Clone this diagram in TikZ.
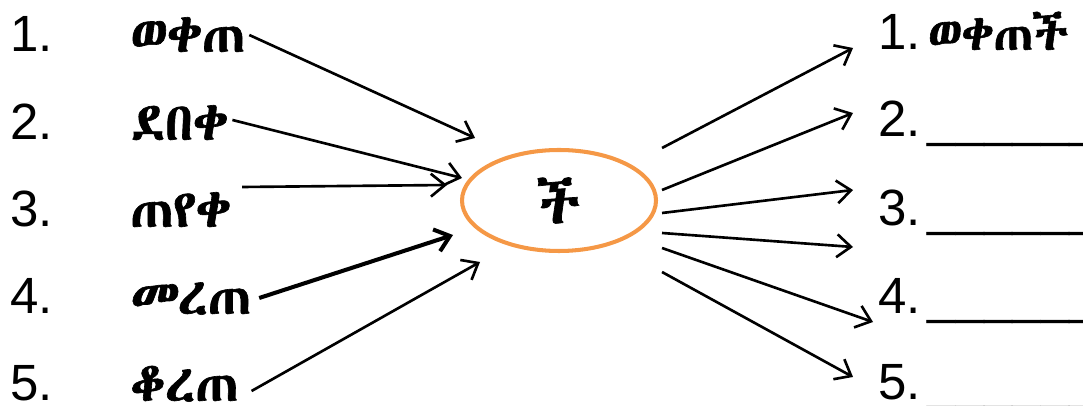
\documentclass[tikz,border=0pt]{standalone}
\usepackage{fontspec}
\setmainfont{Liberation Sans}
\IfFontExistsTF{Abyssinica SIL}
  {\newfontfamily\geezfont[Script=Ethiopic,FakeBold=1.2]{Abyssinica SIL}}
  {\IfFontExistsTF{FreeSerif}
    {\newfontfamily\geezfont[Script=Ethiopic,FakeBold=1.2]{FreeSerif}}
    {\newfontfamily\geezfont{DejaVu Sans}}}
\usetikzlibrary{shapes,calc,arrows.meta}
\definecolor{suffixorange}{RGB}{245,152,70}

\begin{document}
\begin{tikzpicture}[
    >={Straight Barb[length=8pt,width=13pt]},
    num/.style={anchor=base west,inner sep=0pt,font=\fontsize{29}{35}\selectfont},
    verb/.style={anchor=base west,inner sep=0pt,font=\fontsize{30}{36}\geezfont},
    link/.style={->,line width=1.5pt}]
  \useasboundingbox (0,0) rectangle (21.66,8.12);

  % left column: numbers and verbs
  \node[num] (L1) at (0.2,7.08) {1.};
  \node[num] (L2) at (0.2,5.32) {2.};
  \node[num] (L3) at (0.2,3.58) {3.};
  \node[num] (L4) at (0.2,1.84) {4.};
  \node[num] (L5) at (0.2,0.1) {5.};
  \node[verb] (V1) at (2.6,7.08) {ወቀጠ};
  \node[verb] (V2) at (2.6,5.32) {ደበቀ};
  \node[verb] (V3) at (2.6,3.58) {ጠየቀ};
  \node[verb] (V4) at (2.6,1.84) {መረጠ};
  \node[verb] (V5) at (2.6,0.1) {ቆረጠ};

  % the suffix
  \node[ellipse,draw=suffixorange,line width=2.3pt,minimum width=3.88cm,
        minimum height=2.02cm,inner sep=0pt,font=\fontsize{33}{39}\geezfont]
        (C) at (11.18,4.11) {ች};

  % right column
  \node[num] (R1) at (17.56,7.12) {1.\kern4pt{\fontsize{27.5}{33}\geezfont ወቀጠች}};
  \node[num] (R2) at (17.56,5.38) {2.\kern4pt\_\_\_\_\_\_};
  \node[num] (R3) at (17.56,3.6) {3.\kern4pt\_\_\_\_\_\_};
  \node[num] (R4) at (17.56,1.84) {4.\kern4pt\_\_\_\_\_\_};
  \node[num] (R5) at (17.56,0.12) {5.\kern4pt\_\_\_\_\_\_};

  % arrow tips and ends
  \coordinate (T1) at (9.50,5.36);
  \coordinate (T2) at (9.24,4.56);
  \coordinate (T3) at (8.94,4.42);
  \coordinate (T4) at (9.06,3.42);
  \coordinate (T5) at (9.60,2.88);
  \coordinate (E1) at (17.06,7.16);
  \coordinate (E2) at (17.06,5.86);
  \coordinate (E3) at (17.06,4.32);
  \coordinate (E4) at (17.06,3.18);
  \coordinate (E5) at (17.46,1.68);
  \coordinate (E6) at (17.06,0.58);

  \draw[link] ([shift={(0.08,0.34)}]V1.base east) -- (T1);
  \draw[link] ([shift={(0.08,0.40)}]V2.base east) -- (T2);
  \draw[link] ([shift={(0.22,0.80)}]V3.base east) -- (T3);
  \draw[link,line width=2.3pt] ([shift={(0.16,0.32)}]V4.base east) -- (T4);
  \draw[link] ([shift={(0.26,0.20)}]V5.base east) -- (T5);

  \draw[link] ([shift={(0.08,1.05)}]C.east) -- (E1);
  \draw[link] ([shift={(0.08,0.21)}]C.east) -- (E2);
  \draw[link] ([shift={(0.08,-0.25)}]C.east) -- (E3);
  \draw[link] ([shift={(0.08,-0.65)}]C.east) -- (E4);
  \draw[link] ([shift={(0.08,-0.95)}]C.east) -- (E5);
  \draw[link] ([shift={(0.08,-1.43)}]C.east) -- (E6);
\end{tikzpicture}
\end{document}
